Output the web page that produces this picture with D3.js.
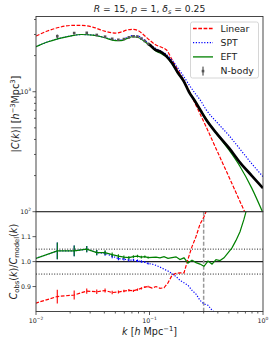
<!DOCTYPE html>
<html>
<head>
<meta charset="utf-8">
<script src="https://cdn.jsdelivr.net/npm/d3@7"></script>
<style>
  body { margin: 0; background: #fff; }
  text { font-family: "DejaVu Sans", sans-serif; fill: #222; }
</style>
</head>
<body>
<div id="chart"></div>
<script>
// model curves (top panel)
const kModel = [0.0100, 0.0126, 0.0158, 0.0200, 0.0251, 0.0316, 0.0398, 0.0501, 0.0562, 0.0631,
  0.0708, 0.0794, 0.0891, 0.1000, 0.1122, 0.1259, 0.1413, 0.1585, 0.1778, 0.1995,
  0.2239, 0.2512, 0.2818, 0.3162, 0.3981, 0.5012, 0.6310, 0.7943, 1.0000];
const linear = [2911, 3206, 3428, 3565, 3573, 3459, 3206, 3083, 3144, 3266,
  3311, 3236, 2968, 2698, 2472, 2358, 2226, 1837, 1517, 1252,
  1014, 805, 640, 508, 314, 195, 120, 75, 46];
const spt = [2371, 2594, 2773, 2911, 2999, 2968, 2840, 2698, 2707, 2829,
  2938, 2911, 2723, 2488, 2312, 2178, 2042, 1827, 1576, 1346,
  1137, 975, 843, 706, 548, 432, 330, 252, 196];
const eft = [2371, 2594, 2773, 2911, 2999, 2968, 2829, 2671, 2671, 2773,
  2871, 2829, 2646, 2427, 2203, 2080, 1945, 1702, 1432, 1216,
  994, 836, 704, 592, 436, 327, 236, 158, 97.5];

// N-body measurements
const nbK = [0.0154, 0.0217, 0.0280, 0.0343, 0.0406, 0.0469, 0.0532, 0.0595, 0.0658, 0.0721,
  0.0784, 0.0847, 0.0910, 0.0973];
const nbC = [2901, 3083, 3097, 2974, 2877, 2761, 2710, 2748, 2835, 2895,
  2877, 2770, 2649, 2506];
const nbErr = [0.032, 0.021, 0.012, 0.010, 0.009, 0.008, 0.007, 0.006, 0.006, 0.005,
  0.005, 0.005, 0.004, 0.004];
const nbLineK = [0.0973, 0.1000, 0.1122, 0.1259, 0.1413, 0.1585, 0.1778, 0.1995, 0.2239, 0.2512,
  0.2818, 0.3162, 0.3981, 0.5012, 0.6310, 0.7943, 1.0000];
const nbLineC = [2506, 2465, 2239, 2147, 1972, 1728, 1439, 1233, 988, 836,
  697, 583, 439, 340, 255, 200, 157];

// ratio panel
const ratioK = [0.0089, 0.0154, 0.0217, 0.0280, 0.0343, 0.0406, 0.0469, 0.0532, 0.0595, 0.0658,
  0.0721, 0.0784, 0.0847, 0.0910, 0.0973, 0.1052, 0.1141, 0.1237, 0.1342, 0.1455,
  0.1578, 0.1712, 0.1856, 0.2014, 0.2184, 0.2368, 0.2568, 0.2786, 0.3021, 0.3277,
  0.3554, 0.3854, 0.4180, 0.4533, 0.4916, 0.5332, 0.5782, 0.6271, 0.6801, 0.7377, 0.8000];
const ratioLin = [0.827, 0.860, 0.866, 0.882, 0.879, 0.884, 0.876, 0.878, 0.882, 0.885,
  0.883, 0.888, 0.893, 0.898, 0.900, 0.894, 0.900, 0.893, 0.895, 0.915,
  0.945, 0.953, 0.955, 0.955, 1.010, 1.060, 1.100, 1.150, 1.180, 1.220];
const ratioSpt = [1.005, 1.043, 1.043, 1.050, 1.036, 1.033, 1.022, 1.012, 1.010, 1.006,
  1.006, 1.003, 1.000, 0.998, 0.992, 0.990, 0.985, 0.978, 0.970, 0.962,
  0.952, 0.940, 0.925, 0.915, 0.905, 0.885, 0.870, 0.845, 0.830, 0.825,
  0.805, 0.790];
const ratioEft = [1.005, 1.043, 1.043, 1.050, 1.036, 1.036, 1.028, 1.022, 1.018, 1.016,
  1.020, 1.022, 1.018, 1.020, 1.016, 1.017, 1.018, 1.015, 1.020, 1.013,
  1.016, 1.019, 1.008, 1.015, 0.994, 1.006, 0.996, 0.990, 0.981, 1.002,
  0.990, 1.008, 1.004, 1.015, 1.035, 1.055, 1.085, 1.120, 1.170, 1.230, 1.300];

const kCut = 0.3;
const ratioBands = [0.95, 1.05];

const width = 274;
const height = 343;
const L = 36, R = 263, T = 16.5, MID = 211.7, B = 311.5;

const svg = d3.select("#chart").append("svg")
  .attr("width", width)
  .attr("height", height);

const x = d3.scaleLog().domain([0.01, 1]).range([L, R]);
const yTop = d3.scaleLog().domain([100, Math.pow(10, 3.627)]).range([MID, T]);
const yBot = d3.scaleLinear().domain([0.8, 1.2]).range([B, MID]);

// clip paths
const defs = svg.append("defs");
defs.append("clipPath").attr("id", "clipTop").append("rect")
  .attr("x", L).attr("y", T).attr("width", R - L).attr("height", MID - T);
defs.append("clipPath").attr("id", "clipBot").append("rect")
  .attr("x", L).attr("y", MID).attr("width", R - L).attr("height", B - MID);

// rich text helper: parts = [{t, i, sup, sub}]
function rich(sel, parts, fs) {
  let shift = 0;
  parts.forEach((p) => {
    const target = p.sup ? -0.42 : p.sub ? 0.22 : 0;
    const ts = sel.append("tspan").text(p.t);
    if (p.i) ts.attr("font-style", "italic");
    if (p.sup || p.sub) ts.attr("font-size", fs * 0.7);
    if (target !== shift) ts.attr("dy", (target - shift) * fs);
    shift = target;
  });
}

const dash = "3.7,1.6";
const dots = "1.2,1.6";

// ---------- top panel ----------
const topG = svg.append("g").attr("clip-path", "url(#clipTop)");
const lineTop = d3.line().x((d) => x(d[0])).y((d) => yTop(d[1])).curve(d3.curveMonotoneX);

topG.append("path").datum(kModel.map((k, i) => [k, linear[i]]))
  .attr("d", lineTop).attr("fill", "none")
  .attr("stroke", "red").attr("stroke-width", 1.2).attr("stroke-dasharray", dash);
topG.append("path").datum(kModel.map((k, i) => [k, spt[i]]))
  .attr("d", lineTop).attr("fill", "none")
  .attr("stroke", "blue").attr("stroke-width", 1.2).attr("stroke-dasharray", dots);
topG.append("path").datum(kModel.map((k, i) => [k, eft[i]]))
  .attr("d", lineTop).attr("fill", "none")
  .attr("stroke", "green").attr("stroke-width", 1.2);

// N-body: thick line where bins are dense, points with error bars at low k
topG.append("path").datum(nbLineK.map((k, i) => [k, nbLineC[i]]))
  .attr("d", lineTop).attr("fill", "none")
  .attr("stroke", "black").attr("stroke-width", 2.7);
const nb = topG.append("g").selectAll("g")
  .data(nbK.map((k, i) => ({ k: k, c: nbC[i], e: nbErr[i] })))
  .enter().append("g");
nb.append("line")
  .attr("x1", (d) => x(d.k)).attr("x2", (d) => x(d.k))
  .attr("y1", (d) => yTop(d.c * (1 + d.e))).attr("y2", (d) => yTop(d.c * (1 - d.e)))
  .attr("stroke", "#333").attr("stroke-width", 1);
nb.append("rect")
  .attr("x", (d) => x(d.k) - 1.3).attr("y", (d) => yTop(d.c) - 1.3)
  .attr("width", 2.6).attr("height", 2.6).attr("fill", "#555");

// ---------- bottom panel ----------
const botG = svg.append("g").attr("clip-path", "url(#clipBot)");
const lineBot = d3.line().x((d) => x(d[0])).y((d) => yBot(d[1]));

botG.append("line").attr("x1", L).attr("x2", R)
  .attr("y1", yBot(1)).attr("y2", yBot(1))
  .attr("stroke", "#222").attr("stroke-width", 1.3);
botG.selectAll(".band").data(ratioBands).enter().append("line")
  .attr("x1", L).attr("x2", R)
  .attr("y1", (d) => yBot(d)).attr("y2", (d) => yBot(d))
  .attr("stroke", "#222").attr("stroke-width", 1).attr("stroke-dasharray", "1,1.6");
botG.append("line").attr("x1", x(kCut)).attr("x2", x(kCut))
  .attr("y1", MID).attr("y2", B)
  .attr("stroke", "#999").attr("stroke-width", 1.5).attr("stroke-dasharray", "4,2");

const ratioSeries = [
  { vals: ratioLin, color: "red", da: dash },
  { vals: ratioSpt, color: "blue", da: dots },
  { vals: ratioEft, color: "green", da: null }
];
ratioSeries.forEach((s) => {
  botG.append("path").datum(s.vals.map((v, i) => [ratioK[i], v]))
    .attr("d", lineBot).attr("fill", "none")
    .attr("stroke", s.color).attr("stroke-width", 1.2)
    .attr("stroke-dasharray", s.da);
  // error bars on the N-body bins
  botG.append("g").selectAll("line")
    .data(nbErr.map((e, i) => ({ k: ratioK[i + 1], r: s.vals[i + 1], e: e })))
    .enter().append("line")
    .attr("x1", (d) => x(d.k)).attr("x2", (d) => x(d.k))
    .attr("y1", (d) => yBot(d.r * (1 + d.e))).attr("y2", (d) => yBot(d.r * (1 - d.e)))
    .attr("stroke", s.color).attr("stroke-width", 1.1);
});

// ---------- axes ----------
const major = 3.5, minor = 2;
const frame = svg.append("g").attr("fill", "none").attr("stroke", "#333").attr("stroke-width", 0.9);
frame.append("rect").attr("x", L).attr("y", T).attr("width", R - L).attr("height", MID - T);
frame.append("rect").attr("x", L).attr("y", MID).attr("width", R - L).attr("height", B - MID);

const tickG = svg.append("g").attr("stroke", "#333").attr("stroke-width", 0.8);
const yMinor = [200, 300, 400, 500, 600, 700, 800, 900, 2000, 3000, 4000];
const xMinor = [0.02, 0.03, 0.04, 0.05, 0.06, 0.07, 0.08, 0.09, 0.2, 0.3, 0.4, 0.5, 0.6, 0.7, 0.8, 0.9];

[100, 1000].forEach((v) => tickG.append("line")
  .attr("x1", L - major).attr("x2", L).attr("y1", yTop(v)).attr("y2", yTop(v)));
yMinor.forEach((v) => tickG.append("line")
  .attr("x1", L - minor).attr("x2", L).attr("y1", yTop(v)).attr("y2", yTop(v)));
[0.9, 1.0, 1.1].forEach((v) => tickG.append("line")
  .attr("x1", L - major).attr("x2", L).attr("y1", yBot(v)).attr("y2", yBot(v)));
[0.01, 0.1, 1].forEach((v) => tickG.append("line")
  .attr("x1", x(v)).attr("x2", x(v)).attr("y1", B).attr("y2", B + major));
xMinor.forEach((v) => tickG.append("line")
  .attr("x1", x(v)).attr("x2", x(v)).attr("y1", B).attr("y2", B + minor));

const tfs = 6.3;
[[100, "2"], [1000, "3"]].forEach(([v, e]) => {
  const t = svg.append("text").attr("x", L - 5).attr("y", yTop(v) + 2.2)
    .attr("text-anchor", "end").attr("font-size", tfs);
  rich(t, [{ t: "10" }, { t: e, sup: true }], tfs);
});
[0.9, 1.0, 1.1].forEach((v) => {
  svg.append("text").attr("x", L - 5).attr("y", yBot(v) + 2.2)
    .attr("text-anchor", "end").attr("font-size", tfs).text(d3.format(".1f")(v));
});
[[0.01, "\u22122"], [0.1, "\u22121"], [1, "0"]].forEach(([v, e]) => {
  const t = svg.append("text").attr("x", x(v)).attr("y", B + 11)
    .attr("text-anchor", "middle").attr("font-size", tfs);
  rich(t, [{ t: "10" }, { t: e, sup: true }], tfs);
});

// ---------- labels ----------
const lfs = 9.6;
const title = svg.append("text").attr("x", (L + R) / 2).attr("y", 12)
  .attr("text-anchor", "middle").attr("font-size", 9.2);
rich(title, [{ t: "R", i: true }, { t: " = 15, " }, { t: "p", i: true }, { t: " = 1, " },
  { t: "\u03b4", i: true }, { t: "s", i: true, sub: true }, { t: " = 0.25" }], 9.2);

const yl1 = svg.append("text").attr("font-size", lfs).attr("text-anchor", "middle")
  .attr("transform", `translate(19,${(T + MID) / 2}) rotate(-90)`);
rich(yl1, [{ t: "|" }, { t: "C", i: true }, { t: "(" }, { t: "k", i: true }, { t: ")| [" },
  { t: "h", i: true }, { t: "\u22123", sup: true }, { t: "Mpc" }, { t: "3", sup: true }, { t: "]" }], lfs);

const yl2 = svg.append("text").attr("font-size", lfs).attr("text-anchor", "middle")
  .attr("transform", `translate(17,${(MID + B) / 2}) rotate(-90)`);
rich(yl2, [{ t: "C", i: true }, { t: "obs", sub: true }, { t: "(" }, { t: "k", i: true },
  { t: ")/" }, { t: "C", i: true }, { t: "model", sub: true }, { t: "(" }, { t: "k", i: true }, { t: ")" }], lfs);

const xl = svg.append("text").attr("x", (L + R) / 2).attr("y", 335)
  .attr("text-anchor", "middle").attr("font-size", lfs);
rich(xl, [{ t: "k", i: true }, { t: " [" }, { t: "h", i: true }, { t: " Mpc" }, { t: "\u22121", sup: true }, { t: "]" }], lfs);

// ---------- legend ----------
const legend = svg.append("g");
legend.append("rect").attr("x", 190.5).attr("y", 22).attr("width", 68).attr("height", 56)
  .attr("rx", 2).attr("fill", "white").attr("fill-opacity", 0.85)
  .attr("stroke", "#ccc").attr("stroke-width", 0.8);
const entries = [
  { name: "Linear", color: "red", da: dash },
  { name: "SPT", color: "blue", da: dots },
  { name: "EFT", color: "green", da: null },
  { name: "N-body", color: "black", da: null }
];
entries.forEach((e, i) => {
  const yy = 28.5 + i * 14.2;
  if (e.name === "N-body") {
    legend.append("line").attr("x1", 203).attr("x2", 203).attr("y1", yy - 4.5).attr("y2", yy + 4.5)
      .attr("stroke", "#333").attr("stroke-width", 1);
    legend.append("rect").attr("x", 201.7).attr("y", yy - 1.3).attr("width", 2.6).attr("height", 2.6)
      .attr("fill", "#555");
  } else {
    legend.append("line").attr("x1", 193).attr("x2", 213).attr("y1", yy).attr("y2", yy)
      .attr("stroke", e.color).attr("stroke-width", 1.3).attr("stroke-dasharray", e.da);
  }
  legend.append("text").attr("x", 220.5).attr("y", yy + 3.3)
    .attr("font-size", 9.3).text(e.name);
});
</script>
</body>
</html>
